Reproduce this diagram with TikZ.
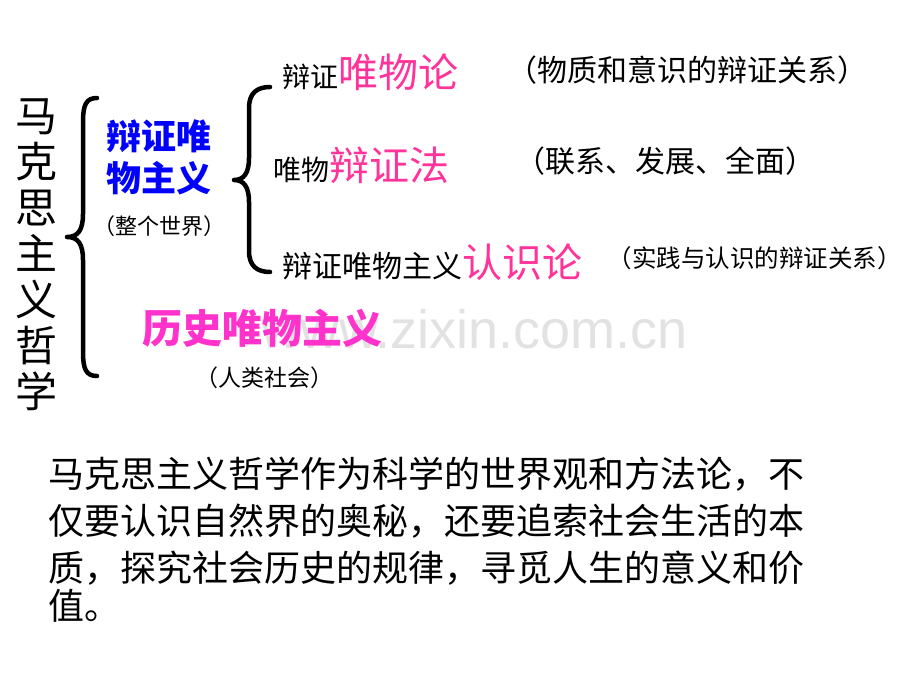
\documentclass[tikz,border=0pt]{standalone}
\usepackage{fontspec}
\newfontfamily\cjk{Noto Sans CJK SC}
\newfontfamily\wmfont{Liberation Sans}
\definecolor{rpink}{HTML}{FF3399}
\definecolor{mpink}{HTML}{FF33CC}
\definecolor{pblue}{HTML}{0000FF}
\definecolor{wmgray}{HTML}{E2E2E2}
\newcommand\myfs[1]{\fontsize{#1}{#1}\selectfont}
\tikzset{
  txt/.style={inner sep=0pt, outer sep=0pt, anchor=base west, font=\cjk},
  brace/.style={line width=4.5pt, line cap=round, line join=round},
}
\begin{document}
\begin{tikzpicture}[x=1pt,y=-1pt]
\useasboundingbox[fill=white] (0,0) rectangle (920,690);

% watermark
\node[inner sep=0pt, anchor=base east, font=\wmfont\myfs{54}, text=wmgray] (wm) at (688,348) {www.zixin.com.cn};

% vertical title
\node[inner sep=0pt, align=center, font=\cjk\fontsize{42}{46}\selectfont] (title) at (37,255) {马\\克\\思\\主\\义\\哲\\学};

% big brace 1
\draw[brace] (97,98) .. controls (86,98) and (83,105) .. (83,122) -- (83,214)
  .. controls (83,230) and (78,237) .. (67,237)
  .. controls (78,237) and (83,244) .. (83,260) -- (83,352)
  .. controls (83,369) and (86,376) .. (97,376);

% brace 2
\draw[brace] (270,87) .. controls (257,87) and (249,93) .. (249,108) -- (249,158)
  .. controls (249,173) and (244,180) .. (234,180)
  .. controls (244,180) and (249,187) .. (249,202) -- (249,251)
  .. controls (249,266) and (257,272) .. (270,272);

% dialectical materialism
\node[txt, font=\cjk\bfseries\myfs{35}, text=pblue] (dm1) at (106,149) {辩证唯};
\node[txt, font=\cjk\bfseries\myfs{35}, text=pblue] (dm2) at (106,191) {物主义};
\node[txt, font=\cjk\myfs{22}] (world) at (93,234) {（整个世界）};

% three branches
\node[txt] (b1) at (282,87.5) {\myfs{28}辩证{\color{rpink}\myfs{40}唯物论}};
\node[txt, font=\cjk\myfs{30}] (n1) at (507,82) {（物质和意识的辩证关系）};

\node[txt] (b2) at (273,180.5) {\myfs{28}唯物{\color{rpink}\myfs{40}辩证法}};
\node[txt, font=\cjk\myfs{30}] (n2) at (515,172) {（联系、发展、全面）};

\node[txt] (b3) at (282,277.5) {\myfs{30}辩证唯物主义{\color{rpink}\myfs{40}认识论}};
\node[txt, font=\cjk\myfs{24.5}] (n3) at (607.5,267) {（实践与认识的辩证关系）};

% historical materialism
\node[txt, font=\cjk\bfseries\myfs{40}, text=mpink] (hm) at (142,343) {历史唯物主义};
\node[txt, font=\cjk\myfs{23}] (soc) at (195,386) {（人类社会）};

% paragraph
\node[txt, font=\cjk\myfs{36}] (p1) at (48,487) {马克思主义哲学作为科学的世界观和方法论，不};
\node[txt, font=\cjk\myfs{36}] (p2) at (48,534) {仅要认识自然界的奥秘，还要追索社会生活的本};
\node[txt, font=\cjk\myfs{36}] (p3) at (48,581) {质，探究社会历史的规律，寻觅人生的意义和价};
\node[txt, font=\cjk\myfs{36}] (p4) at (48,619) {值。};
\end{tikzpicture}
\end{document}
